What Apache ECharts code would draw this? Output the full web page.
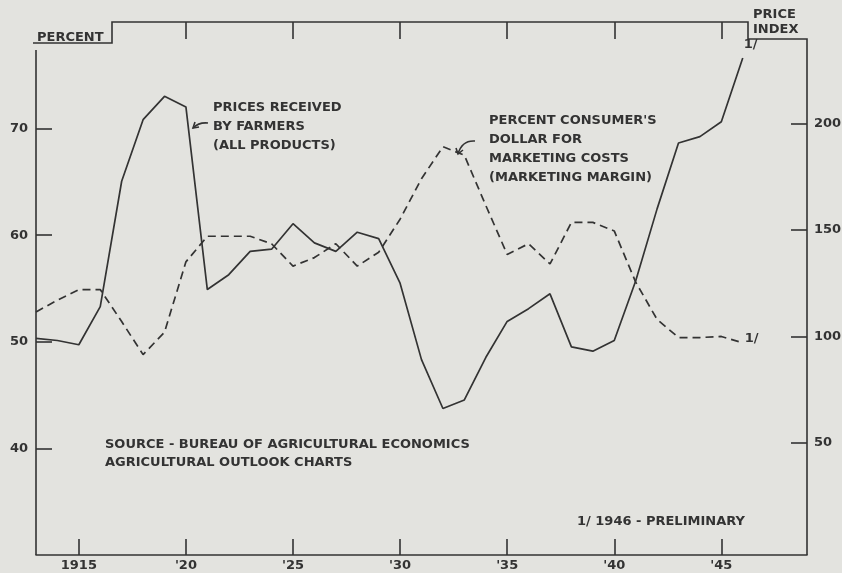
<!DOCTYPE html>
<html>
<head>
	<meta charset="utf-8">
	<title>Marketing margin and prices received by farmers</title>
	<style>
		body { margin: 0; background: #e3e3df; }
	</style>
</head>
<body>
	<div style="width:842px;height:573px;" id="chart1"></div>

	<script src="https://cdn.jsdelivr.net/npm/echarts@6/dist/echarts.min.js"></script>
	<script>
	// data, one value per year
	var years = [1913, 1914, 1915, 1916, 1917, 1918, 1919, 1920, 1921, 1922, 1923, 1924,
		1925, 1926, 1927, 1928, 1929, 1930, 1931, 1932, 1933, 1934, 1935, 1936,
		1937, 1938, 1939, 1940, 1941, 1942, 1943, 1944, 1945, 1946];

	// prices received by farmers, all products (price index, right scale)
	var priceIndex = [99, 98, 96, 114, 173, 202, 213, 208, 122, 129, 140, 141,
		153, 144, 140, 149, 146, 125, 89, 66, 70, 90, 107, 113,
		120, 95, 93, 98, 126, 160, 191, 194, 201, 231];

	// percent of consumer's dollar for marketing costs (left scale)
	var marketingMargin = [52.8, 53.9, 54.9, 54.9, 51.9, 48.8, 50.9, 57.5, 59.9, 59.9, 59.9, 59.2,
		57.1, 57.9, 59.2, 57.1, 58.4, 61.5, 65.3, 68.3, 67.5, 62.8, 58.2, 59.2,
		57.3, 61.2, 61.2, 60.4, 55.6, 52.1, 50.4, 50.4, 50.5, 49.9];

	var xTickYears = [1915, 1920, 1925, 1930, 1935, 1940, 1945];
	var xTickLabels = ['1915', "'20", "'25", "'30", "'35", "'40", "'45"];
	var topTickYears = [1920, 1925, 1930, 1935, 1940, 1945];
	var percentTicks = [40, 50, 60, 70];
	var indexTicks = [50, 100, 150, 200];

	var ink = '#333333';
	var font = '"DejaVu Sans", sans-serif';

	function pairs(xs, ys) {
		var out = [];
		for (var i = 0; i < xs.length; i++) out.push([xs[i], ys[i]]);
		return out;
	}

	function txt(str, x, y, lh) {
		return {
			type: 'text', silent: true, z: 10,
			style: {
				text: str, x: x, y: y, fill: ink,
				font: 'bold 13px ' + font,
				lineHeight: lh || 19
			}
		};
	}

	function stroke(type, shape) {
		return { type: type, silent: true, shape: shape, style: { stroke: ink, lineWidth: 1.6, fill: null } };
	}

	var chart = echarts.init(document.getElementById('chart1'));

	var tickStyle = { color: ink, width: 1.6 };
	var labelStyle = { color: ink, fontFamily: font, fontWeight: 'bold', fontSize: 13 };

	var option = {
		backgroundColor: '#e3e3df',
		animation: false,
		grid: { left: 36, right: 35, top: 22, bottom: 18, outerBoundsMode: 'none' },
		xAxis: [{
			type: 'value', min: 1913, max: 1949,
			axisLine: { show: true, onZero: false, lineStyle: tickStyle },
			axisTick: { customValues: xTickYears, inside: true, length: 16, lineStyle: tickStyle },
			axisLabel: Object.assign({
				customValues: xTickYears,
				margin: 4,
				formatter: function (v) { return xTickLabels[xTickYears.indexOf(v)]; }
			}, labelStyle),
			splitLine: { show: false }
		}, {
			type: 'value', min: 1913, max: 1949, position: 'top',
			axisLine: { show: false, onZero: false },
			axisTick: { customValues: topTickYears, inside: true, length: 17, lineStyle: tickStyle },
			axisLabel: { show: false },
			splitLine: { show: false }
		}],
		yAxis: [{
			type: 'value', min: 30, max: 80,
			axisLine: { show: false, onZero: false },
			axisTick: { show: true, customValues: percentTicks, inside: true, length: 16, lineStyle: tickStyle },
			axisLabel: Object.assign({ customValues: percentTicks, margin: 8 }, labelStyle),
			splitLine: { show: false }
		}, {
			type: 'value', min: -3, max: 248, position: 'right',
			axisLine: { show: false, onZero: false },
			axisTick: { show: true, customValues: indexTicks, inside: true, length: 16, lineStyle: tickStyle },
			axisLabel: Object.assign({ customValues: indexTicks, margin: 7 }, labelStyle),
			splitLine: { show: false }
		}],
		series: [{
			name: "Percent consumer's dollar for marketing costs",
			type: 'line', xAxisIndex: 0, yAxisIndex: 0,
			data: pairs(years, marketingMargin),
			symbol: 'none',
			lineStyle: { color: ink, width: 1.7, type: [8, 5] },
			endLabel: { show: true, formatter: '1/', color: ink, fontFamily: font, fontWeight: 'bold', fontSize: 13, offset: [-6, -4] }
		}, {
			name: 'Prices received by farmers',
			type: 'line', xAxisIndex: 0, yAxisIndex: 1,
			data: pairs(years, priceIndex),
			symbol: 'none',
			lineStyle: { color: ink, width: 1.7 },
			endLabel: { show: true, formatter: '1/', color: ink, fontFamily: font, fontWeight: 'bold', fontSize: 13, offset: [-7, -13] }
		}],
		graphic: [
			// frame: left axis, notched top edge and right axis
			stroke('polyline', { points: [[36, 50], [36, 555]] }),
			stroke('polyline', { points: [[33, 43], [112, 43], [112, 22], [748, 22], [748, 39], [807, 39], [807, 555]] }),
			txt('PERCENT', 37, 28),
			txt('PRICE\nINDEX', 753, 7, 15),
			txt('PRICES RECEIVED\nBY FARMERS\n(ALL PRODUCTS)', 213, 98),
			txt("PERCENT CONSUMER'S\nDOLLAR FOR\nMARKETING COSTS\n(MARKETING MARGIN)", 489, 111),
			txt('SOURCE - BUREAU OF AGRICULTURAL ECONOMICS\nAGRICULTURAL OUTLOOK CHARTS', 105, 436, 18),
			txt('1/ 1946 - PRELIMINARY', 577, 512),
			// little pointer arrows to the two curves
			stroke('bezierCurve', { x1: 208, y1: 123, cpx1: 199, cpy1: 122, x2: 193, y2: 128 }),
			stroke('polyline', { points: [[199, 127], [193, 128], [195, 122]] }),
			stroke('bezierCurve', { x1: 475, y1: 141, cpx1: 462, cpy1: 140, x2: 458, y2: 154 }),
			stroke('polyline', { points: [[456, 148], [458, 154], [463, 150]] })
		]
	};

	chart.setOption(option);
	</script>
</body>
</html>
